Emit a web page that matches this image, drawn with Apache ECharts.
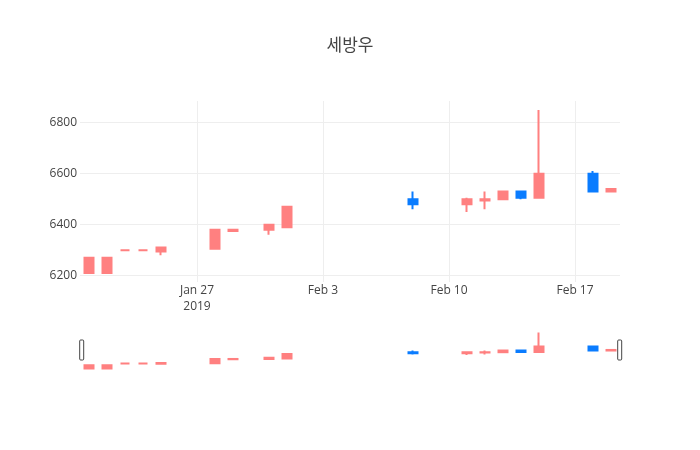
<!DOCTYPE html>
<html>
<head>
<meta charset="utf-8">
<script src="https://cdn.jsdelivr.net/npm/echarts@6/dist/echarts.min.js"></script>
<style>
html,body{margin:0;padding:0;background:#fff;}
#chart{width:700px;height:450px;}
</style>
</head>
<body>
<div id="chart"></div>
<script>
// ---- data ----
const titleText = '세방우';
const dates = ['2019-01-21','2019-01-22','2019-01-23','2019-01-24','2019-01-25',
               '2019-01-28','2019-01-29','2019-01-31','2019-02-01','2019-02-08',
               '2019-02-11','2019-02-12','2019-02-13','2019-02-14','2019-02-15',
               '2019-02-18','2019-02-19'];
const openVals  = [6210,6210,6300,6300,6295,6305,6375,6380,6390,6500,6480,6495,6500,6530,6505,6600,6530];
const closeVals = [6270,6270,6300,6300,6310,6380,6380,6400,6470,6480,6500,6500,6530,6505,6600,6530,6540];
const lowVals   = [6210,6210,6300,6300,6280,6305,6375,6360,6390,6460,6450,6460,6500,6500,6505,6530,6530];
const highVals  = [6270,6270,6300,6300,6310,6380,6380,6400,6470,6530,6505,6530,6530,6530,6850,6610,6540];
const xTickDates  = ['2019-01-27','2019-02-03','2019-02-10','2019-02-17'];
const xTickLabels = ['Jan 27\n2019','Feb 3','Feb 10','Feb 17'];
const yTickValues = [6200,6400,6600,6800];
const xRangeStart = '2019-01-21';
const xRangeEnd   = '2019-02-19';

// ---- build (x = day number counted from xRangeStart) ----
const DAY = 86400000;
const utc = s => { const p = s.split('-').map(Number); return Date.UTC(p[0], p[1] - 1, p[2]); };
const dayNum = s => Math.round((utc(s) - utc(xRangeStart)) / DAY);
const xMin = dayNum(xRangeStart) - 0.5;
const xMax = dayNum(xRangeEnd) + 0.5;
const candleData = dates.map((d, i) => [dayNum(d), openVals[i], closeVals[i], lowVals[i], highVals[i]]);
const tickDays = xTickDates.map(dayNum);

const UP = '#ff8080', DOWN = '#0a7cff';
const FONT = '"Open Sans", "DejaVu Sans", sans-serif';
const candleStyle = { color: UP, color0: DOWN, borderColor: UP, borderColor0: DOWN, borderWidth: 2 };

const chart = echarts.init(document.getElementById('chart'), null, { renderer: 'canvas' });
chart.setOption({
  animation: false,
  backgroundColor: '#fff',
  title: {
    text: titleText, left: 'center', top: 31,
    textStyle: { fontFamily: '"Noto Sans CJK KR", sans-serif', fontSize: 17, fontWeight: 'normal', color: '#444' }
  },
  grid: [
    { left: 80, right: 80, top: 101, height: 181 },
    { left: 80, right: 80, top: 328, height: 45.6 }
  ],
  xAxis: [
    {
      type: 'value', gridIndex: 0, min: xMin, max: xMax,
      axisLine: { show: false },
      axisTick: { show: false, customValues: tickDays },
      axisLabel: {
        customValues: tickDays, color: '#444', fontFamily: FONT, fontSize: 12, margin: 1, lineHeight: 16,
        formatter: v => { const i = tickDays.indexOf(v); return i >= 0 ? xTickLabels[i] : ''; }
      },
      splitLine: { show: true, lineStyle: { color: '#eee', width: 1 } }
    },
    {
      type: 'value', gridIndex: 1, min: xMin, max: xMax,
      axisLine: { show: false }, axisTick: { show: false }, axisLabel: { show: false }, splitLine: { show: false }
    }
  ],
  yAxis: [
    {
      type: 'value', gridIndex: 0, min: 6175, max: 6885,
      axisLine: { show: false },
      axisTick: { show: false, customValues: yTickValues },
      axisLabel: { customValues: yTickValues, color: '#444', fontFamily: FONT, fontSize: 12, margin: 3,
                   formatter: v => String(v) },
      splitLine: { show: true, lineStyle: { color: '#eee', width: 1 } }
    },
    {
      type: 'value', gridIndex: 1, min: 6120, max: 6930,
      axisLine: { show: false }, axisTick: { show: false }, axisLabel: { show: false }, splitLine: { show: false }
    }
  ],
  dataZoom: [{
    type: 'slider', xAxisIndex: [0, 1], filterMode: 'none',
    left: 80, right: 80, top: 340, height: 20,
    start: 0, end: 100,
    backgroundColor: 'rgba(0,0,0,0)', borderColor: 'rgba(0,0,0,0)', fillerColor: 'rgba(0,0,0,0)',
    showDataShadow: false, showDetail: false, brushSelect: false, moveHandleSize: 0,
    dataBackground: { lineStyle: { opacity: 0 }, areaStyle: { opacity: 0 } },
    selectedDataBackground: { lineStyle: { opacity: 0 }, areaStyle: { opacity: 0 } },
    handleIcon: 'path://M1,0 h2 a1,1 0 0 1 1,1 v18 a1,1 0 0 1 -1,1 h-2 a1,1 0 0 1 -1,-1 v-18 a1,1 0 0 1 1,-1 z',
    handleSize: '100%',
    handleStyle: { color: '#fff', borderColor: '#444', borderWidth: 1 }
  }],
  series: [
    {
      type: 'candlestick', xAxisIndex: 0, yAxisIndex: 0, barWidth: 9,
      encode: { x: 0, y: [1, 2, 3, 4] },
      data: candleData, itemStyle: candleStyle
    },
    {
      type: 'candlestick', xAxisIndex: 1, yAxisIndex: 1, barWidth: 9,
      encode: { x: 0, y: [1, 2, 3, 4] },
      data: candleData, itemStyle: candleStyle, silent: true
    }
  ]
});
</script>
</body>
</html>
